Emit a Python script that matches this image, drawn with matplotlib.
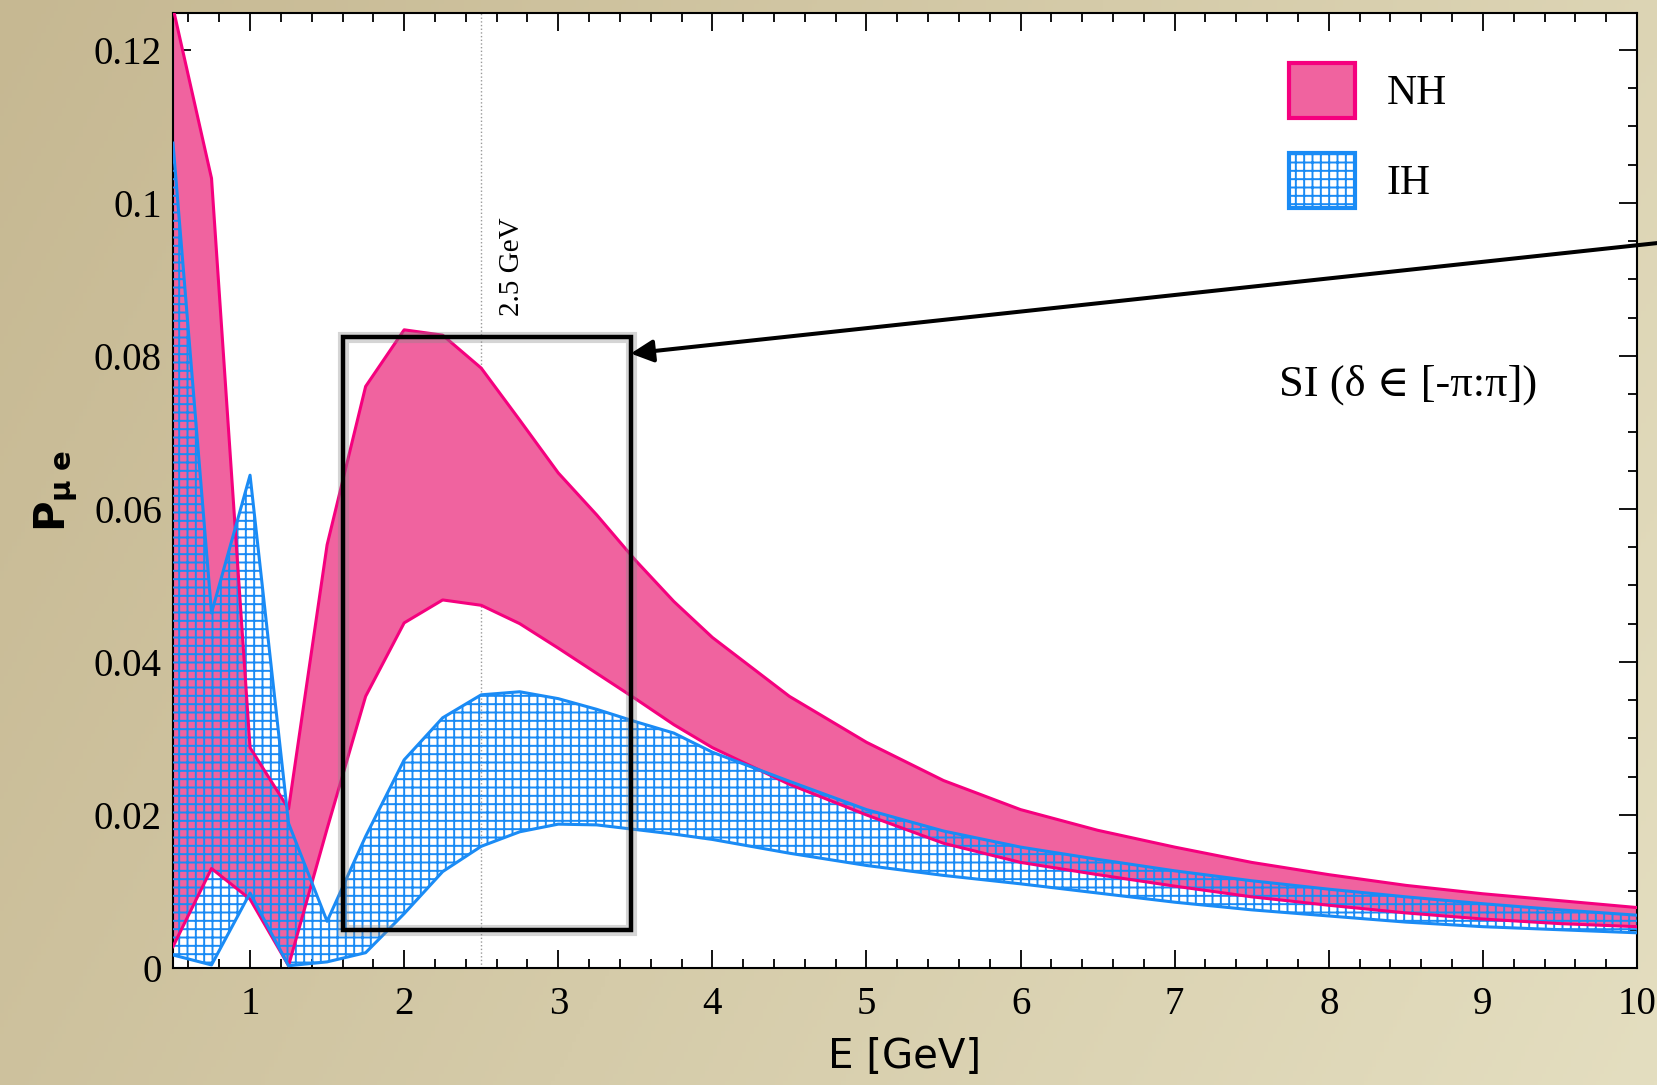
import numpy as np
import matplotlib
matplotlib.use('Agg')
import matplotlib.pyplot as plt
from matplotlib.patches import Rectangle, Patch
import matplotlib.patheffects as pe

# band edges (P_mu e vs E)
energy = [0.5, 0.75, 1.0, 1.25, 1.5, 1.75, 2.0, 2.25, 2.5, 2.75, 3.0, 3.25, 3.5, 3.75, 4.0,
          4.5, 5.0, 5.5, 6.0, 6.5, 7.0, 7.5, 8.0, 8.5, 9.0, 9.5, 10.0]
nh_hi = [0.1255, 0.1032, 0.0288, 0.0208, 0.0553, 0.0760, 0.0834, 0.0827, 0.0784, 0.0716, 0.0647, 0.0592, 0.0533, 0.0479, 0.0432,
         0.0355, 0.0295, 0.0245, 0.0207, 0.0180, 0.0158, 0.0138, 0.0122, 0.0108, 0.0097, 0.0088, 0.0079]
nh_lo = [0.0028, 0.0130, 0.0090, 0.0003, 0.0182, 0.0355, 0.0451, 0.0481, 0.0474, 0.0450, 0.0418, 0.0385, 0.0352, 0.0318, 0.0288,
         0.0240, 0.0200, 0.0163, 0.0138, 0.0122, 0.0107, 0.0093, 0.0082, 0.0072, 0.0064, 0.0058, 0.0054]
ih_hi = [0.1078, 0.0464, 0.0644, 0.0189, 0.0061, 0.0172, 0.0272, 0.0327, 0.0357, 0.0361, 0.0352, 0.0338, 0.0322, 0.0307, 0.0282,
         0.0244, 0.0207, 0.0179, 0.0158, 0.0142, 0.0127, 0.0114, 0.0103, 0.0093, 0.0084, 0.0076, 0.0069]
ih_lo = [0.0017, 0.0004, 0.0098, 0.0003, 0.0008, 0.0020, 0.0071, 0.0126, 0.0159, 0.0178, 0.0188, 0.0187, 0.0181, 0.0175, 0.0168,
         0.0150, 0.0134, 0.0121, 0.0110, 0.0098, 0.0086, 0.0076, 0.0068, 0.0060, 0.0054, 0.0050, 0.0046]

x_ticks = [1, 2, 3, 4, 5, 6, 7, 8, 9, 10]
y_ticks = [0, 0.02, 0.04, 0.06, 0.08, 0.1, 0.12]
y_tick_labels = ['0', '0.02', '0.04', '0.06', '0.08', '0.1', '0.12']
labels = ['NH', 'IH']
box_e = [1.60, 3.47]
box_p = [0.0050, 0.0824]
marker_e = 2.5

nh_col = '#F5007E'
nh_fill = '#F0639F'
ih_col = '#1A8BF5'

serif = ['Liberation Serif', 'DejaVu Serif']
plt.rcParams['hatch.linewidth'] = 1.4
plt.rcParams['mathtext.default'] = 'regular'

fig = plt.figure(figsize=(16.58, 10.85), dpi=100)

# parchment-like background
bg = fig.add_axes([0, 0, 1, 1], zorder=-10)
gx = np.linspace(0, 1, 400)
gy = np.linspace(0, 1, 300)
GX, GY = np.meshgrid(gx, gy)
c0 = np.array([198, 184, 146]) / 255.
c1 = np.array([228, 222, 192]) / 255.
t = np.clip(0.75 * GX + 0.25 * GY, 0, 1)[..., None]
bg.imshow(c0 * (1 - t) + c1 * t, aspect='auto', extent=[0, 1, 0, 1])
bg.axis('off')

ax = fig.add_axes([0.10434, 0.10783, 0.88299, 0.88018])
ax.set_facecolor('white')

ax.fill_between(energy, nh_lo, nh_hi, facecolor=nh_fill, edgecolor='none', lw=0, zorder=2)
ax.fill_between(energy, ih_lo, ih_hi, facecolor='none', edgecolor=ih_col, hatch='++', lw=0, zorder=3)
ax.plot(energy, nh_hi, color=nh_col, lw=2.2, zorder=4)
ax.plot(energy, nh_lo, color=nh_col, lw=2.2, zorder=4)
ax.plot(energy, ih_hi, color=ih_col, lw=2.2, zorder=5)
ax.plot(energy, ih_lo, color=ih_col, lw=2.2, zorder=5)

ax.axvline(marker_e, color='#999999', lw=1.0, ls=':', zorder=1)
ax.text(2.70, 0.0916, '2.5 GeV', rotation=90, ha='center', va='center',
        fontsize=21, family=serif, zorder=6)

rect = Rectangle((box_e[0], box_p[0]), box_e[1] - box_e[0], box_p[1] - box_p[0],
                 fill=False, edgecolor='black', lw=3.2, zorder=7)
rect.set_path_effects([pe.Stroke(linewidth=8, foreground='#888888', alpha=0.35), pe.Normal()])
ax.add_patch(rect)

ax.annotate('', xy=(box_e[1], 0.0803), xytext=(10.3, 0.0951),
            arrowprops=dict(arrowstyle='-|>', lw=2.9, color='black', mutation_scale=34,
                            shrinkA=0, shrinkB=0),
            annotation_clip=False, zorder=8)

ax.text(7.68, 0.0762, 'SI (δ ∈ [-π:π])', ha='left', va='center',
        fontsize=32, family=serif)

handles = [Patch(facecolor=nh_fill, edgecolor=nh_col, lw=3),
           Patch(facecolor='white', edgecolor=ih_col, hatch='++', lw=3)]
leg = ax.legend(handles, labels, loc='upper left', bbox_to_anchor=(0.762, 0.948),
                frameon=False, prop={'family': serif, 'size': 30},
                handlelength=1.6, handleheight=1.65, labelspacing=0.85,
                handletextpad=0.75, borderpad=0, borderaxespad=0)

ax.set_xlim(0.5, 10)
ax.set_ylim(0, 0.1248)
ax.set_xticks(x_ticks)
ax.set_xticklabels([str(v) for v in x_ticks])
ax.set_yticks(y_ticks)
ax.set_yticklabels(y_tick_labels)
ax.set_xticks(np.arange(0.6, 10.0, 0.2), minor=True)
ax.set_yticks(np.arange(0.005, 0.125, 0.005), minor=True)
ax.tick_params(which='both', direction='in', top=True, right=True, width=1.3, color='black')
ax.tick_params(which='major', length=13)
ax.tick_params(which='minor', length=6.5)
ax.tick_params(axis='x', which='major', pad=13)
ax.tick_params(axis='y', which='major', pad=8)
for lab in ax.get_xticklabels() + ax.get_yticklabels():
    lab.set_family(serif)
    lab.set_fontsize(28)
for s in ax.spines.values():
    s.set_linewidth(1.5)

ax.set_xlabel('E [GeV]', fontsize=29, family='DejaVu Sans', labelpad=10)
ax.set_ylabel(r'P$_{\mu\ e}$', fontsize=30, family='DejaVu Sans', fontweight='bold', labelpad=10)

fig.savefig('out.png', dpi=100)
